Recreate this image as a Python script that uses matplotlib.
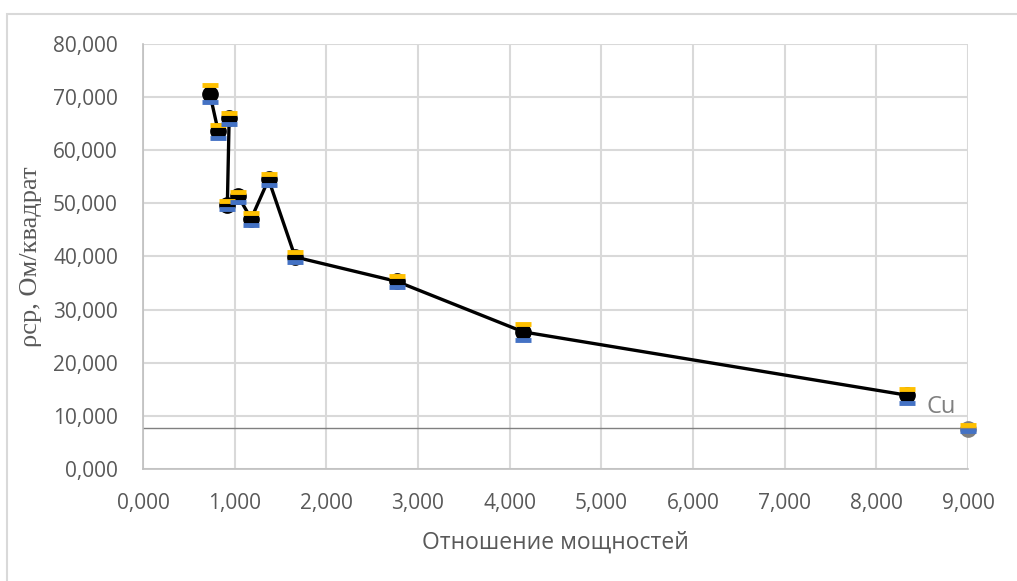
import matplotlib.pyplot as plt
from matplotlib.patches import Rectangle
from matplotlib.ticker import FuncFormatter

# power ratio vs mean sheet resistance
ratio = [0.73, 0.82, 0.94, 0.92, 1.04, 1.18, 1.37, 1.66, 2.77, 4.15, 8.33]
rho_avg = [70.6, 63.6, 66.0, 49.6, 51.3, 47.1, 54.5, 39.9, 35.3, 25.8, 13.9]
rho_max = [72.3, 64.8, 67.0, 50.4, 52.1, 48.2, 55.5, 40.8, 36.4, 27.3, 15.0]
rho_min = [69.0, 62.3, 64.9, 48.9, 50.2, 46.0, 53.5, 39.0, 34.3, 24.3, 12.5]

# copper reference
cu_x = [9.0]
cu_avg = [7.6]
cu_max = [8.2]
cu_min = [7.2]
cu_level = 7.7

xticks = [0, 1, 2, 3, 4, 5, 6, 7, 8, 9]
yticks = [0, 10, 20, 30, 40, 50, 60, 70, 80]

txt = '#595959'
grid = '#D9D9D9'

fig = plt.figure(figsize=(10.17, 5.81), dpi=100)
ax = fig.add_axes([0.1406, 0.1928, 0.8112, 0.7315])

# chart frame (partly cut off at right and bottom)
fig.patches.append(Rectangle((7 / 1017, -0.1), 1.2, 1 - 14 / 581 + 0.1,
                             transform=fig.transFigure, fill=False,
                             edgecolor=grid, lw=1.5))

ax.set_xlim(0, 9)
ax.set_ylim(0, 80)
ax.set_xticks(xticks)
ax.set_yticks(yticks)
fmt = FuncFormatter(lambda v, p: f'{v:.3f}'.replace('.', ','))
ax.xaxis.set_major_formatter(fmt)
ax.yaxis.set_major_formatter(fmt)
ax.grid(True, color=grid, lw=1.5)
ax.set_axisbelow(True)
for s in ['top', 'right']:
    ax.spines[s].set_visible(False)
for s in ['left', 'bottom']:
    ax.spines[s].set_color('#BFBFBF')
    ax.spines[s].set_linewidth(1.2)
ax.tick_params(length=0, labelsize=15, labelcolor=txt)
ax.tick_params(axis='y', pad=18)
ax.tick_params(axis='x', pad=17)
for lab in ax.get_xticklabels() + ax.get_yticklabels():
    lab.set_family('Open Sans')

# Cu level line
ax.axhline(cu_level, color='#808080', lw=1, zorder=2)

ax.plot(ratio, rho_avg, color='black', lw=2.4, marker='o', ms=11,
        zorder=3, clip_on=False)
ax.plot(ratio, rho_max, ls='none', marker='_', ms=11, mew=3.5,
        color='#FFC000', zorder=4, clip_on=False)
ax.plot(ratio, rho_min, ls='none', marker='_', ms=11, mew=3.5,
        color='#4472C4', zorder=4, clip_on=False)

ax.plot(cu_x, cu_avg, ls='none', marker='o', ms=11, color='#7F7F7F',
        zorder=3, clip_on=False)
ax.plot(cu_x, cu_max, ls='none', marker='_', ms=11, mew=3.5,
        color='#FFC000', zorder=4, clip_on=False)
ax.plot(cu_x, cu_min, ls='none', marker='_', ms=11, mew=3.5,
        color='#4472C4', zorder=4, clip_on=False)
ax.text(8.71, 11.7, 'Cu', fontsize=17, color='#808080', family='Open Sans',
        ha='center', va='center')

ax.set_xlabel('Отношение мощностей', fontsize=16.5, color=txt,
              family='Open Sans', labelpad=12)
ax.set_ylabel('ρср, Ом/квадрат', fontsize=19, color=txt,
              family='Liberation Serif', labelpad=8)

fig.savefig('out.png', dpi=100)
